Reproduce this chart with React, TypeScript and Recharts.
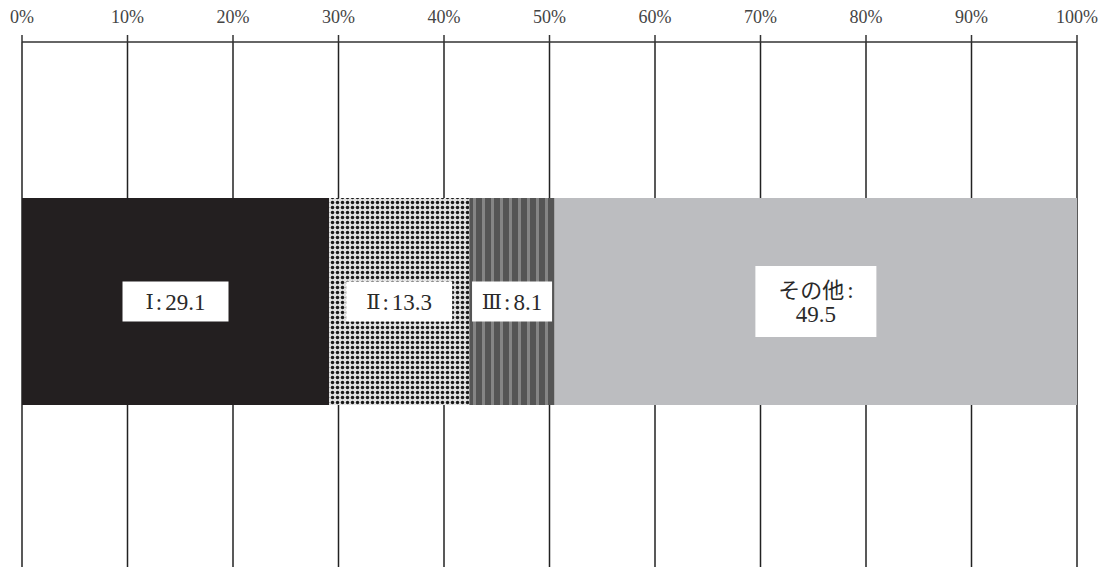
import React from 'react';
import { BarChart, Bar, XAxis, YAxis, CartesianGrid, LabelList } from 'recharts';

// data (percent shares)
const categories = ['構成比'];
const seriesKeys = ['s1', 's2', 's3', 's4'];
const seriesNames = ['Ⅰ', 'Ⅱ', 'Ⅲ', 'その他'];
const seriesValues = [29.1, 13.3, 8.1, 49.5];
const tickValues = [0, 10, 20, 30, 40, 50, 60, 70, 80, 90, 100];

const fills = ['#231f20', 'url(#dotFill)', 'url(#stripeFill)', '#bcbdc0'];
const boxWidths = [106, 106, 80, 121];
const serif = '"Liberation Serif", serif';
const nameFont = '"DejaVu Serif", "Noto Sans CJK JP", serif';

const data = categories.map((name) => {
  const row: Record<string, string | number> = { name };
  seriesKeys.forEach((k, i) => (row[k] = seriesValues[i]));
  return row;
});

const makeLabel = (idx: number) => (props: any) => {
  const { x, y, width, height, value } = props;
  const cx = x + width / 2;
  const cy = y + height / 2;
  const twoLines = idx === seriesNames.length - 1;
  const boxW = boxWidths[idx];
  const boxH = twoLines ? 71 : 40;
  const txt = { fill: '#2a2a2a', fontSize: 23, textAnchor: 'middle' as const, dominantBaseline: 'central' as const };
  return (
    <g>
      <rect x={cx - boxW / 2} y={cy - boxH / 2} width={boxW} height={boxH} fill="#ffffff" />
      {twoLines ? (
        <>
          <text x={cx} y={cy - 12} {...txt}>
            <tspan fontFamily={nameFont} fontSize={22}>{seriesNames[idx]}</tspan>
            <tspan fontFamily={serif} dx={3}>:</tspan>
          </text>
          <text x={cx} y={cy + 13} fontFamily={serif} {...txt}>
            {value}
          </text>
        </>
      ) : (
        <text x={cx} y={cy} {...txt}>
          <tspan fontFamily={nameFont} fontSize={21}>{seriesNames[idx]}</tspan>
          <tspan fontFamily={serif} dx={2}>:</tspan>
          <tspan fontFamily={serif} dx={3}>{value}</tspan>
        </text>
      )}
    </g>
  );
};

export default function App() {
  return (
    <div style={{ position: 'absolute', left: 0, top: 0, width: 1109, height: 567, background: '#fff' }}>
      <svg width={0} height={0} style={{ position: 'absolute' }}>
        <defs>
          <pattern id="dotFill" width={5} height={5} patternUnits="userSpaceOnUse">
            <rect width={5} height={5} fill="#e2e2e2" />
            <circle cx={2.5} cy={2.5} r={1.75} fill="#1a1a1a" />
          </pattern>
          <pattern id="stripeFill" width={9} height={9} patternUnits="userSpaceOnUse">
            <rect width={9} height={9} fill="#555555" />
            <rect x={5} width={3} height={9} fill="#858585" />
          </pattern>
        </defs>
      </svg>
      <BarChart
        width={1109}
        height={567}
        data={data}
        layout="vertical"
        margin={{ top: 0, right: 32, bottom: 0, left: 22 }}
      >
        <CartesianGrid horizontal={false} stroke="#222" strokeWidth={1.5} />
        <XAxis
          type="number"
          orientation="top"
          height={42}
          domain={[0, 100]}
          ticks={tickValues}
          interval={0}
          tickFormatter={(v: number) => `${v}%`}
          axisLine={{ stroke: '#333', strokeWidth: 1.5 }}
          tickLine={{ stroke: '#333', strokeWidth: 1.5 }}
          tickSize={7}
          tickMargin={12}
          tick={{ fill: '#444', fontSize: 18, fontFamily: serif }}
          allowDataOverflow
        />
        <YAxis type="category" dataKey="name" hide width={0} padding={{ top: 0, bottom: 6 }} />
        {seriesKeys.map((k, i) => (
          <Bar key={k} dataKey={k} stackId="a" fill={fills[i]} barSize={207} isAnimationActive={false}>
            <LabelList dataKey={k} content={makeLabel(i)} />
          </Bar>
        ))}
      </BarChart>
    </div>
  );
}
